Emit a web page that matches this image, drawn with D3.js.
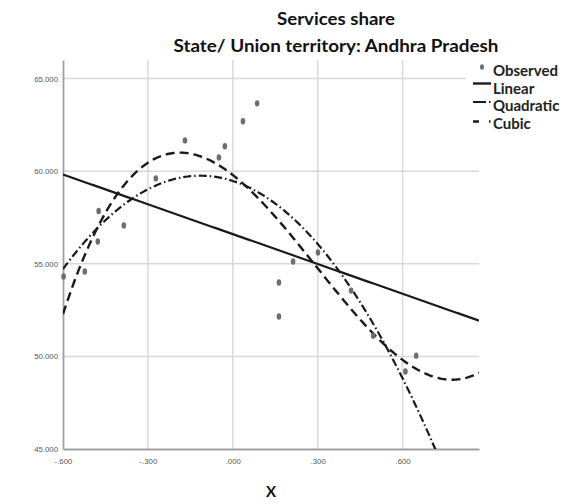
<!DOCTYPE html>
<html>
<head>
<meta charset="utf-8">
<script src="https://cdn.jsdelivr.net/npm/d3@7"></script>
<style>
  html, body { margin: 0; padding: 0; background: #fff; }
  svg { display: block; }
</style>
</head>
<body>
<svg id="chart" width="578" height="504"></svg>
<script>
// Observed services share against X
const observedX = [-0.598, -0.523, -0.477, -0.474, -0.385, -0.272, -0.169, -0.049, -0.028, 0.036,
                   0.086, 0.163, 0.163, 0.213, 0.301, 0.418, 0.496, 0.610, 0.648];
const observedY = [54.31, 54.58, 56.20, 57.85, 57.07, 59.61, 61.66, 60.74, 61.34, 62.69,
                   63.66, 53.99, 52.15, 55.12, 55.61, 53.55, 51.12, 49.18, 50.04];

// Fitted model coefficients, constant term first
const linearCoef = [56.60, -5.367];
const quadraticCoef = [59.47, -4.92, -21.4];
const cubicCoef = [59.79, -11.974, -24.29, 27.54];

const xTicks = [-0.6, -0.3, 0, 0.3, 0.6];
const yTicks = [45, 50, 55, 60, 65];
const legendLabels = ["Observed", "Linear", "Quadratic", "Cubic"];

const svg = d3.select("#chart");
const margin = { left: 63, top: 60, right: 99, bottom: 55 };
const W = 578, H = 504;

const x = d3.scaleLinear().domain([-0.6, 0.87]).range([margin.left, W - margin.right]);
const y = d3.scaleLinear().domain([45, 66]).range([H - margin.bottom, margin.top]);

// ".300" style labels: three decimals, no leading zero, ASCII minus
const fmtX = v => {
  const s = Math.abs(v).toFixed(3).replace(/^0\./, ".");
  return (v < 0 ? "-" : "") + s;
};
const fmtY = v => v.toFixed(3);

// grid lines
const grid = svg.append("g").attr("stroke", "#d9d9d9").attr("stroke-width", 1.5);
grid.selectAll("line.v").data(xTicks.slice(1)).join("line")
  .attr("x1", d => x(d)).attr("x2", d => x(d))
  .attr("y1", y(66)).attr("y2", y(45));
grid.selectAll("line.h").data(yTicks.slice(1)).join("line")
  .attr("x1", x(-0.6)).attr("x2", x(0.87))
  .attr("y1", d => y(d)).attr("y2", d => y(d));

// axes
const xAxis = svg.append("g").attr("transform", `translate(0,${y(45)})`)
  .call(d3.axisBottom(x).tickValues(xTicks).tickFormat(fmtX).tickSize(0).tickPadding(9));
const yAxis = svg.append("g").attr("transform", `translate(${x(-0.6)},0)`)
  .call(d3.axisLeft(y).tickValues(yTicks).tickFormat(fmtY).tickSize(0).tickPadding(5));
[xAxis, yAxis].forEach(a => {
  a.select(".domain").attr("stroke", "#a0a0a0").attr("stroke-width", 1.8);
  a.selectAll("text").attr("fill", "#555").attr("font-family", "Liberation Sans, Arial, sans-serif")
    .attr("font-size", 7.8);
});

// fitted curves, clipped to the plot area
svg.append("clipPath").attr("id", "plotClip").append("rect")
  .attr("x", x(-0.6)).attr("y", y(66)).attr("width", x(0.87) - x(-0.6)).attr("height", y(45) - y(66));

const poly = c => v => c.reduce((s, k, i) => s + k * Math.pow(v, i), 0);
const xs = d3.range(-0.6, 0.8701, 0.005);
const line = d3.line().x(d => x(d[0])).y(d => y(d[1]));
const curves = [
  { coef: cubicCoef, dash: "9,5", width: 2.4 },
  { coef: quadraticCoef, dash: "8,3,1.5,3", width: 2.2 },
  { coef: linearCoef, dash: null, width: 2.2 }
];
const curveG = svg.append("g").attr("clip-path", "url(#plotClip)");
curves.forEach(c => {
  const f = poly(c.coef);
  curveG.append("path")
    .datum(xs.map(v => [v, f(v)]))
    .attr("d", line)
    .attr("fill", "none")
    .attr("stroke", "#1a1a1a")
    .attr("stroke-width", c.width)
    .attr("stroke-dasharray", c.dash);
});

// observed points
svg.append("g").selectAll("ellipse").data(observedX.map((v, i) => [v, observedY[i]])).join("ellipse")
  .attr("cx", d => x(d[0])).attr("cy", d => y(d[1]))
  .attr("rx", 2.3).attr("ry", 3.2)
  .attr("fill", "#6e6e6e");

// titles
const titleFont = "Lato, 'Open Sans', sans-serif";
svg.append("text").attr("x", 336).attr("y", 25).attr("text-anchor", "middle")
  .attr("font-family", titleFont).attr("font-weight", "bold").attr("font-size", 16.5)
  .attr("textLength", 118).attr("lengthAdjust", "spacingAndGlyphs")
  .attr("fill", "#111").text("Services share");
svg.append("text").attr("x", 336).attr("y", 52).attr("text-anchor", "middle")
  .attr("font-family", titleFont).attr("font-weight", "bold").attr("font-size", 16.5)
  .attr("textLength", 325).attr("lengthAdjust", "spacingAndGlyphs")
  .attr("fill", "#111").text("State/ Union territory: Andhra Pradesh");
svg.append("text").attr("x", 271).attr("y", 497).attr("text-anchor", "middle")
  .attr("font-family", titleFont).attr("font-weight", "bold").attr("font-size", 15)
  .attr("fill", "#111").text("X");

// legend
const legend = svg.append("g");
legend.append("rect").attr("x", 466).attr("y", 60).attr("width", 112).attr("height", 72).attr("fill", "#fff");
const rowY = [71, 88.5, 106, 123.5];
legendLabels.forEach((lab, i) => {
  legend.append("text").attr("x", 493).attr("y", rowY[i]).attr("dy", "0.35em")
    .attr("font-family", titleFont).attr("font-weight", "bold").attr("font-size", 15)
    .attr("fill", "#222").text(lab);
});
legend.append("ellipse").attr("cx", 482).attr("cy", rowY[0] - 4).attr("rx", 2).attr("ry", 2.8).attr("fill", "#6e6e6e");
legend.append("line").attr("x1", 473).attr("x2", 491).attr("y1", rowY[1] - 5).attr("y2", rowY[1] - 5)
  .attr("stroke", "#1a1a1a").attr("stroke-width", 2.4);
legend.append("line").attr("x1", 473).attr("x2", 491).attr("y1", rowY[2] - 4).attr("y2", rowY[2] - 4)
  .attr("stroke", "#1a1a1a").attr("stroke-width", 2.2).attr("stroke-dasharray", "13,3,1.5,10");
legend.append("line").attr("x1", 473).attr("x2", 491).attr("y1", rowY[3] - 2).attr("y2", rowY[3] - 2)
  .attr("stroke", "#1a1a1a").attr("stroke-width", 2.4).attr("stroke-dasharray", "6,10,1.5,10");
</script>
</body>
</html>
